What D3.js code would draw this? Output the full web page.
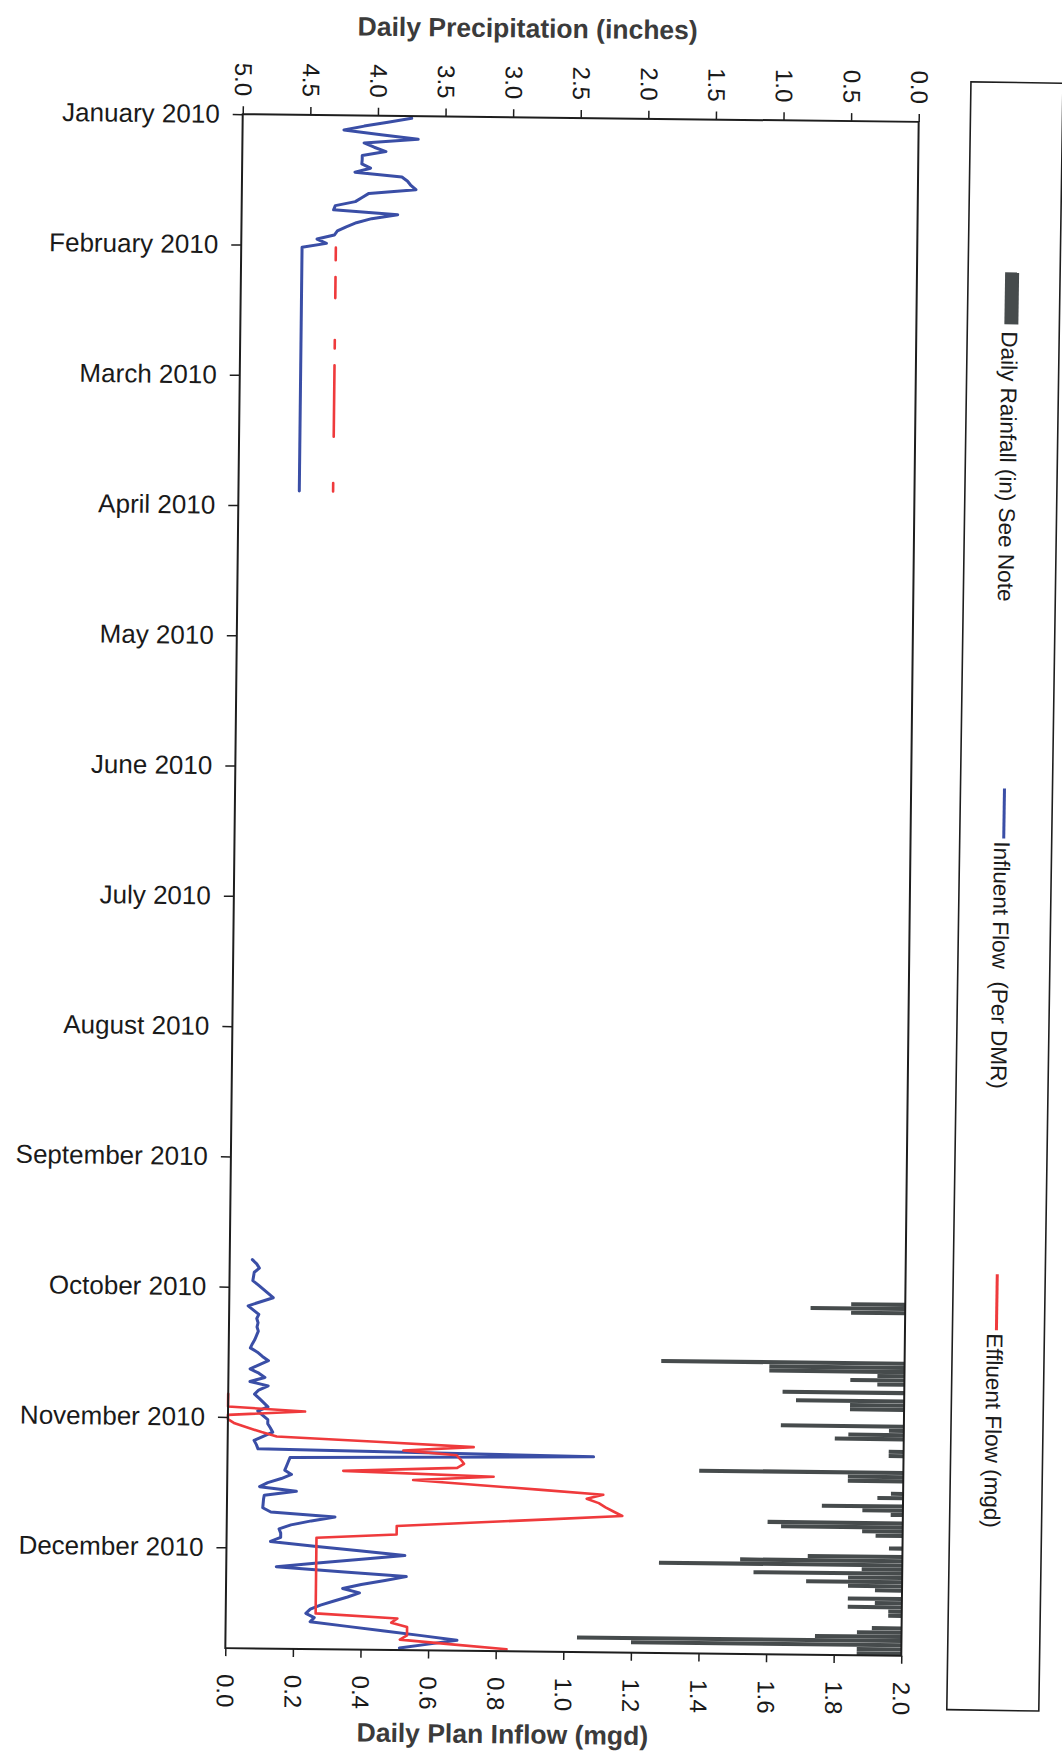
<!DOCTYPE html>
<html><head><meta charset="utf-8">
<script src="https://cdn.jsdelivr.net/npm/d3@7"></script>
<style>
body{margin:0;background:#fff}
svg{display:block}
text{font-family:"Liberation Sans",Arial,sans-serif}
</style>
</head><body>
<svg id="c" width="1062" height="1753"></svg>
<script>
// ---------- DATA ----------
// category axis: one category per day of 2010 (day index 0..364), labels every 31 days
const monthTicks = [0,31,62,93,124,155,186,217,248,279,310,341];
const monthLabels = ["January 2010","February 2010","March 2010","April 2010","May 2010","June 2010",
  "July 2010","August 2010","September 2010","October 2010","November 2010","December 2010"];
const precipTicks = [5.0,4.5,4.0,3.5,3.0,2.5,2.0,1.5,1.0,0.5,0.0];
const flowTicks = [0.0,0.2,0.4,0.6,0.8,1.0,1.2,1.4,1.6,1.8,2.0];

// Influent flow (mgd), Jan 1 .. Mar 31 (day 0..89)
const influentQ1Start = 0;
const influentQ1 = [0.50,0.43,0.36,0.30,0.41,0.52,0.36,0.39,0.425,0.355,
  0.355,0.354,0.38,0.334,0.473,0.49,0.50,0.515,0.376,0.356,
  0.336,0.277,0.272,0.462,0.385,0.34,0.31,0.284,0.275,0.224,
  0.252,0.18,0.18,0.18,0.18,0.18,0.18,0.18,0.18,0.18,
  0.18,0.18,0.18,0.18,0.18,0.18,0.18,0.18,0.18,0.18,
  0.18,0.18,0.18,0.18,0.18,0.18,0.18,0.18,0.18,0.18,
  0.18,0.18,0.18,0.18,0.18,0.18,0.18,0.18,0.18,0.18,
  0.18,0.18,0.18,0.18,0.18,0.18,0.18,0.18,0.18,0.18,
  0.18,0.18,0.18,0.18,0.18,0.18,0.18,0.18,0.18,0.18];

// Effluent flow (mgd), Feb 1 .. Mar 31 (day 31..89), null = missing
const effluentQ1Start = 31;
const effluentQ1 = [0.28,0.28,0.28,0.28,null,null,null,0.28,0.28,0.28,
  0.28,0.28,0.28,null,null,null,null,null,null,null,
  null,null,0.28,0.28,0.28,null,null,null,0.28,0.28,
  0.28,0.28,0.28,0.28,0.28,0.28,0.28,0.28,0.28,0.28,
  0.28,0.28,0.28,0.28,0.28,0.28,null,null,null,null,
  null,null,null,null,null,null,0.28,0.28,0.28];

// Influent flow (mgd), Sep 30 .. Dec 31 (day 272..364)
const influentQ4Start = 272;
const influentQ4 = [0.067,0.08,0.088,0.073,0.071,0.069,0.085,0.10,0.115,0.13,
  0.093,0.056,0.072,0.088,0.082,0.086,0.083,0.087,0.082,0.077,
  0.07,0.064,0.085,0.10,0.118,0.09,0.064,0.09,0.108,0.064,
  0.118,0.09,0.078,0.092,0.105,0.118,0.088,0.103,0.118,0.118,
  0.126,0.133,0.105,0.078,0.085,0.09,1.083,0.185,0.18,0.175,
  0.17,0.19,0.16,0.12,0.096,0.205,0.11,0.108,0.107,0.106,
  0.13,0.32,0.25,0.19,0.155,0.16,0.16,0.13,0.26,0.40,
  0.528,0.40,0.27,0.148,0.34,0.533,0.47,0.40,0.345,0.395,
  0.36,0.32,0.28,0.25,0.237,0.262,0.25,0.36,0.47,0.58,
  0.685,0.60,0.515];

// Effluent flow (mgd), Oct 31 .. Dec 31 (day 304..364)
const effluentQ4Start = 304;
const effluentQ4 = [0,0,0,0,0.228,0,0,0.02,0.06,0.10,
  0.145,0.44,0.728,0.52,0.678,0.69,0.70,0.68,0.343,0.788,
  0.55,0.74,0.93,1.113,1.064,1.10,1.12,1.145,1.17,0.95,
  0.72,0.503,0.503,0.503,0.266,0.266,0.266,0.266,0.266,0.266,
  0.266,0.266,0.266,0.266,0.266,0.266,0.266,0.266,0.266,0.266,
  0.266,0.266,0.266,0.508,0.49,0.537,0.537,0.537,0.516,0.67,
  0.832];

// Daily rainfall (inches)
const rainDays = [281,282,283,295,296,297,298,299,300,302,304,305,306,310,311,312,313,316,317,321,322,323,
  326,327,329,330,331,333,334,335,336,339,341,342,343,344,345,346,347,348,349,351,352,353,354,355,
  358,359,360,361,362,363,364];
const rainInches = [0.40,0.70,0.40,1.80,1.00,1.00,0.20,0.40,0.20,0.90,0.80,0.40,0.40,0.91,0.11,0.41,0.51,0.11,0.11,1.51,0.41,0.41,
  0.09,0.19,0.60,0.30,0.09,1.00,0.90,0.30,0.20,0.10,0.70,1.20,1.80,0.30,1.10,0.40,0.71,0.40,0.20,0.40,0.20,0.40,0.10,0.10,
  0.22,0.33,0.64,2.40,2.00,0.33,0.33];

const legendItems = ["Daily Rainfall (in) See Note","Influent Flow  (Per DMR)","Effluent Flow (mgd)"];

// ---------- LAYOUT ----------
const L=234, R=910, T=118, B=1652;
const BLUE="#3a4ea6", RED="#ef3a3c", BAR="#464b4c", INK="#1e1e1e";

const svg=d3.select('#c');
const g=svg.append('g').attr('transform','rotate(0.65,572,885)');

const y=d3.scaleLinear().domain([0,365]).range([T,B]);
const xFlow=d3.scaleLinear().domain([0,2]).range([L,R]);
const xPrecip=d3.scaleLinear().domain([5,0]).range([L,R]);
const slot=y(1)-y(0);

// rainfall bars
g.append('g').selectAll('rect')
  .data(rainDays.map((d,i)=>({d,v:rainInches[i]})))
  .join('rect')
  .attr('x',p=>xPrecip(p.v)).attr('width',p=>xPrecip(0)-xPrecip(p.v))
  .attr('y',p=>y(p.d)+slot*0.02).attr('height',slot*0.96)
  .attr('fill',BAR);

// lines
const toPts=(start,arr)=>arr.map((v,i)=>({d:start+i+0.5,v}));
const line=d3.line().defined(p=>p.v!=null).x(p=>xFlow(p.v)).y(p=>y(p.d));
[[influentQ1Start,influentQ1,BLUE,3.0],[influentQ4Start,influentQ4,BLUE,3.0],
 [effluentQ1Start,effluentQ1,RED,2.6],[effluentQ4Start,effluentQ4,RED,2.6]]
 .forEach(([s,a,c,w])=>{
   g.append('path').datum(toPts(s,a)).attr('d',line)
    .attr('fill','none').attr('stroke',c).attr('stroke-width',w)
    .attr('stroke-linejoin','round').attr('stroke-linecap','round');
 });

// frame
g.append('rect').attr('x',L).attr('y',T).attr('width',R-L).attr('height',B-T)
  .attr('fill','none').attr('stroke',INK).attr('stroke-width',2);

function styleAxis(a){
  a.select('.domain').remove();
  a.selectAll('.tick line').attr('stroke',INK).attr('stroke-width',1.5);
  a.selectAll('.tick text').attr('fill','#1a1a1a');
}

// left (date) axis
g.append('g').attr('transform',`translate(${L},0)`)
  .call(d3.axisLeft(y).tickValues(monthTicks).tickFormat((d,i)=>monthLabels[i]).tickSize(10).tickPadding(13))
  .call(styleAxis)
  .call(a=>a.selectAll('.tick text').attr('font-size',26));

// top (precipitation) axis
g.append('g').attr('transform',`translate(0,${T})`)
  .call(d3.axisTop(xPrecip).tickValues(precipTicks).tickFormat(d3.format('.1f')).tickSize(8))
  .call(styleAxis)
  .call(a=>a.selectAll('.tick text').attr('font-size',24).attr('y',0).attr('dy',null)
     .attr('dominant-baseline','central').attr('text-anchor','end')
     .attr('transform','translate(0,-18) rotate(90)'));

// bottom (flow) axis
g.append('g').attr('transform',`translate(0,${B})`)
  .call(d3.axisBottom(xFlow).tickValues(flowTicks).tickFormat(d3.format('.1f')).tickSize(8))
  .call(styleAxis)
  .call(a=>a.selectAll('.tick text').attr('font-size',24).attr('y',0).attr('dy',null)
     .attr('dominant-baseline','central').attr('text-anchor','start')
     .attr('transform','translate(0,26) rotate(90)'));

// titles
g.append('text').attr('x',518).attr('y',29).attr('text-anchor','middle').attr('dominant-baseline','central')
  .attr('font-size',26.5).attr('font-weight','bold').attr('fill','#3b3b3b').text('Daily Precipitation (inches)');
g.append('text').attr('x',512).attr('y',1735).attr('text-anchor','middle').attr('dominant-baseline','central')
  .attr('font-size',26.5).attr('font-weight','bold').attr('fill','#3b3b3b').text('Daily Plan Inflow (mgd)');

// legend
const lg=svg.append('g').attr('transform','rotate(0.85,572,885)');
lg.append('rect').attr('x',959).attr('y',76).attr('width',92).attr('height',1628)
  .attr('fill','none').attr('stroke',INK).attr('stroke-width',1.6);
const LX=1003;
lg.append('rect').attr('x',LX-7).attr('y',266).attr('width',14).attr('height',52).attr('fill',BAR);
lg.append('line').attr('x1',LX).attr('x2',LX).attr('y1',782).attr('y2',832).attr('stroke',BLUE).attr('stroke-width',3);
lg.append('line').attr('x1',LX).attr('x2',LX).attr('y1',1268).attr('y2',1324).attr('stroke',RED).attr('stroke-width',3);
[[325,legendItems[0]],[835,legendItems[1]],[1327,legendItems[2]]].forEach(([yy,t])=>{
  lg.append('text').attr('x',0).attr('y',0)
    .attr('transform',`translate(${LX-2},${yy}) rotate(90)`)
    .attr('dominant-baseline','central').attr('text-anchor','start')
    .attr('font-size',22.5).attr('fill','#1a1a1a').style('white-space','pre').text(t);
});
</script>
</body></html>
